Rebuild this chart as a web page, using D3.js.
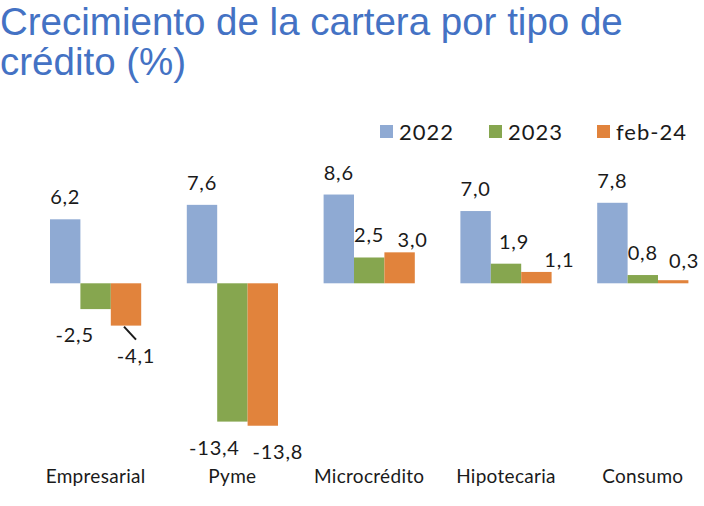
<!DOCTYPE html>
<html>
<head>
<meta charset="utf-8">
<script src="https://cdn.jsdelivr.net/npm/d3@7"></script>
<style>
  body { margin: 0; background: #fff; }
  svg { display: block; }
  .title { font-family: "Liberation Sans", Arial, sans-serif; fill: #4472C4; }
  .lbl, .cat, .leg { font-family: Lato, "Open Sans", sans-serif; fill: #1a1a1a; }
</style>
</head>
<body>
<svg width="704" height="506"></svg>
<script>
const categories = ["Empresarial", "Pyme", "Microcrédito", "Hipotecaria", "Consumo"];
const seriesNames = ["2022", "2023", "feb-24"];
const values2022 = [6.2, 7.6, 8.6, 7.0, 7.8];
const values2023 = [-2.5, -13.4, 2.5, 1.9, 0.8];
const valuesFeb24 = [-4.1, -13.8, 3.0, 1.1, 0.3];
const colors = ["#8FAAD3", "#86A64F", "#E1833C"];

// hand-placed labels in the original, offsets from the default spot
const labelShift = [
  [[0, 0], [0, 0], [0, 0], [0, 0], [0, 0]],
  [[-21, 0], [-18, 0], [0, 0], [8, 0], [0, 0]],
  [[10, 4], [15, 0], [13, 10], [23, 10], [11, 3]]
];

const svg = d3.select("svg");
const allValues = [values2022, values2023, valuesFeb24];

const data = categories.map((c, i) => ({
  cat: c,
  vals: seriesNames.map((s, j) => ({ s, j, i, v: allValues[j][i] }))
}));

// title
svg.append("text").attr("class", "title")
  .attr("x", 0).attr("y", 35).attr("font-size", 38.5)
  .text("Crecimiento de la cartera por tipo de");
svg.append("text").attr("class", "title")
  .attr("x", 0).attr("y", 75).attr("font-size", 38.5)
  .text("crédito (%)");

const x = d3.scaleBand()
  .domain(categories)
  .range([27.2, 711.2])
  .paddingInner(1 / 3)
  .paddingOuter(1 / 6);

const xs = d3.scaleBand()
  .domain(seriesNames)
  .range([0, x.bandwidth()]);

const y = d3.scaleLinear()
  .domain([-14, 9])
  .range([427.8, 190.4]);

const groups = svg.append("g")
  .selectAll("g")
  .data(data)
  .enter()
  .append("g")
  .attr("transform", d => `translate(${x(d.cat)},0)`);

groups.selectAll("rect")
  .data(d => d.vals)
  .enter()
  .append("rect")
  .attr("x", d => xs(d.s))
  .attr("width", xs.bandwidth())
  .attr("y", d => y(Math.max(0, d.v)))
  .attr("height", d => Math.abs(y(d.v) - y(0)))
  .attr("fill", d => colors[d.j]);

const fmt = v => v.toFixed(1).replace(".", ",");

groups.selectAll("text.lbl")
  .data(d => d.vals)
  .enter()
  .append("text")
  .attr("class", "lbl")
  .attr("font-size", 20)
  .attr("letter-spacing", 0.8)
  .attr("text-anchor", "middle")
  .attr("x", d => xs(d.s) + xs.bandwidth() / 2 + labelShift[d.j][d.i][0])
  .attr("y", d => (d.v >= 0 ? y(d.v) - 15 : y(d.v) + 33) + labelShift[d.j][d.i][1])
  .text(d => fmt(d.v));

// leader line for the Empresarial feb-24 label
const lead = data[0].vals[2];
const leadX = x(categories[0]) + xs(lead.s) + xs.bandwidth() / 2;
svg.append("line")
  .attr("x1", leadX - 2)
  .attr("y1", y(lead.v) + 1)
  .attr("x2", leadX + 10)
  .attr("y2", y(lead.v) + 14)
  .attr("stroke", "#1a1a1a")
  .attr("stroke-width", 2);

// category names
svg.append("g")
  .selectAll("text")
  .data(categories)
  .enter()
  .append("text")
  .attr("class", "cat")
  .attr("font-size", 19)
  .attr("letter-spacing", 0.3)
  .attr("text-anchor", "middle")
  .attr("x", d => x(d) + x.bandwidth() / 2)
  .attr("y", 483)
  .text(d => d);

// legend
const legX = [380, 489, 597];
const legend = svg.append("g")
  .selectAll("g")
  .data(seriesNames)
  .enter()
  .append("g")
  .attr("transform", (d, i) => `translate(${legX[i]},125)`);

legend.append("rect")
  .attr("width", 13).attr("height", 13)
  .attr("fill", (d, i) => colors[i]);

legend.append("text")
  .attr("class", "leg")
  .attr("x", 19).attr("y", 14.5)
  .attr("font-size", 22)
  .attr("letter-spacing", 1)
  .text(d => d);
</script>
</body>
</html>
